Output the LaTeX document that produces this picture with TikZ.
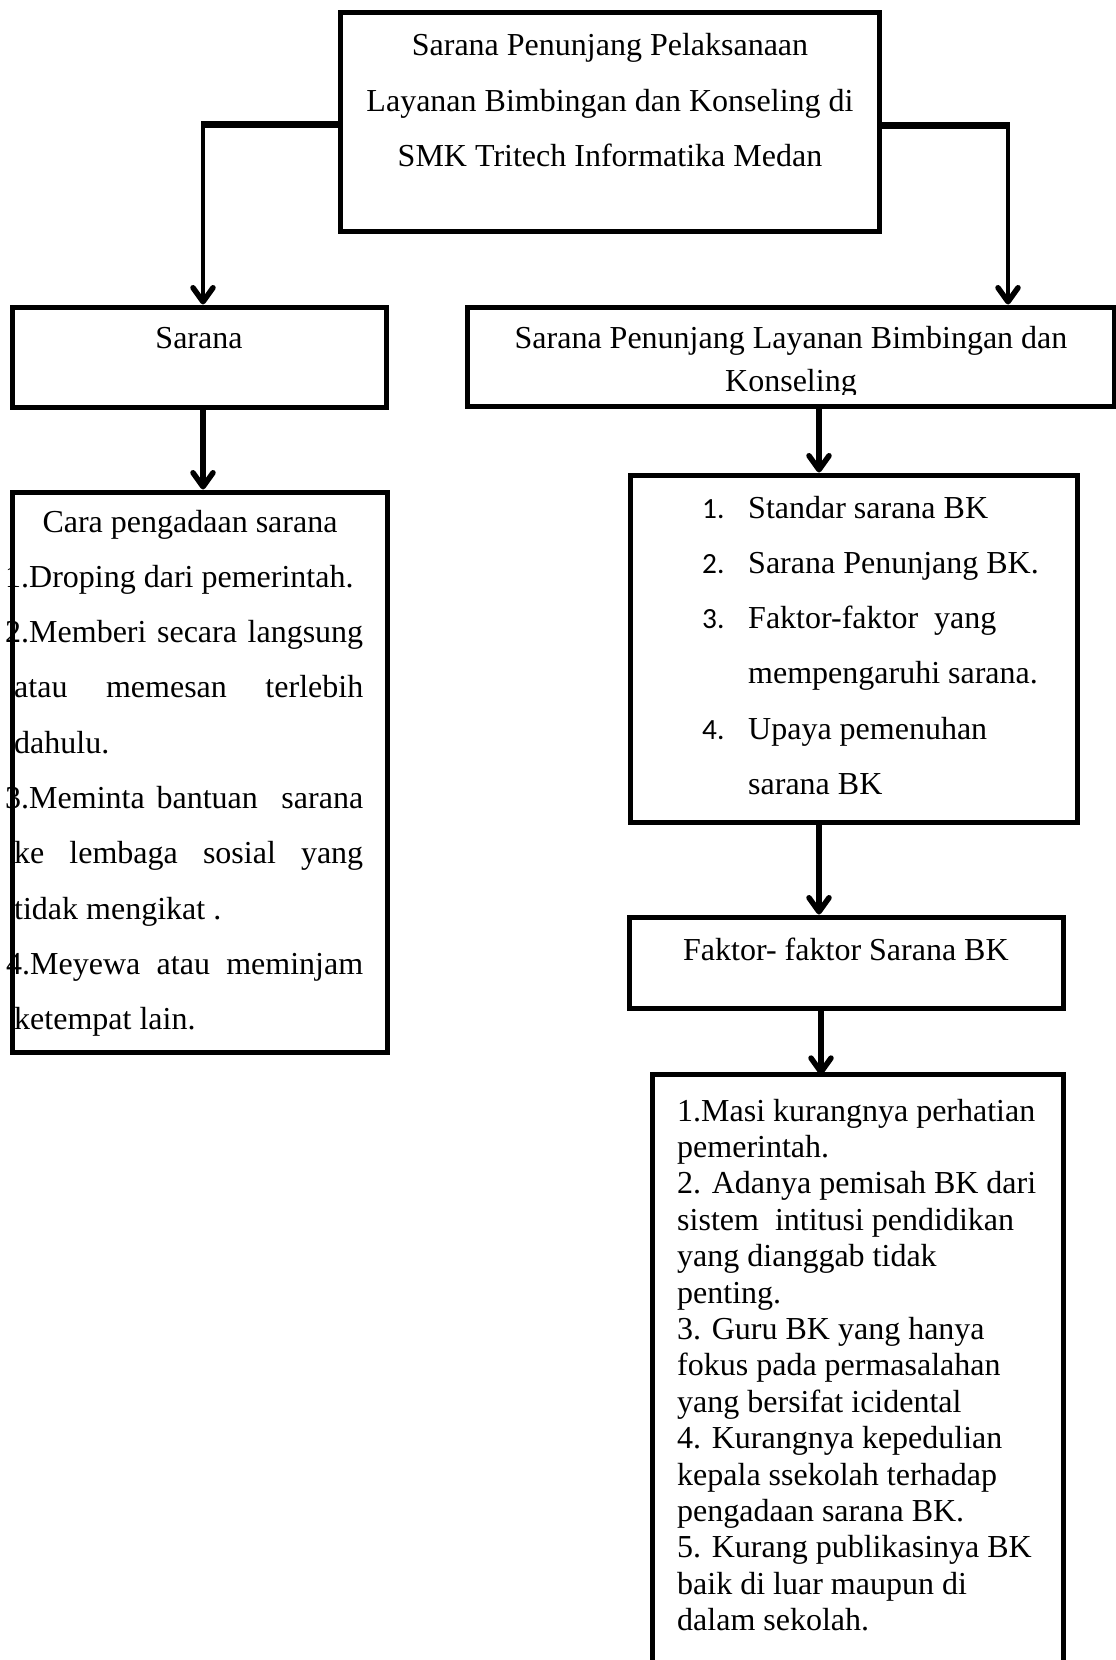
\documentclass[tikz,border=0pt]{standalone}
\usepackage{fontspec}
\setmainfont{Liberation Serif}
\newfontfamily\numfont{Carlito}
\usetikzlibrary{arrows.meta}
\begin{document}
\begin{tikzpicture}[x=1pt,y=-1pt,
  box/.style={draw,line width=5pt,inner sep=0pt},
  txt/.style={inner sep=0pt,font=\fontsize{32}{36}\selectfont},
  num/.style={inner sep=0pt,font=\numfont\fontsize{29.3}{34}\selectfont},
  arr/.style={line width=5.5pt,-{Straight Barb[length=14pt,width=20pt,round]}},
  thinarr/.style={line width=4pt,-{Straight Barb[length=14pt,width=20pt,line width=5.5pt,round]}},
  hline/.style={line width=7pt}
]
\useasboundingbox (0,0) rectangle (1116,1660);
% ---------- texts ----------
\node[txt,anchor=base] (t1) at (610,55) {Sarana Penunjang Pelaksanaan};
\node[txt,anchor=base] (t2) at (610,111) {Layanan Bimbingan dan Konseling di};
\node[txt,anchor=base] (t3) at (610,166) {SMK Tritech Informatika Medan};

\node[txt,anchor=base] (s1) at (199,348) {Sarana};

\node[txt,anchor=base] (p1) at (791,348) {Sarana Penunjang Layanan Bimbingan dan};
\begin{scope}
\clip (467,300) rectangle (1114,394);
\node[txt,anchor=base] (p2) at (791,391) {Konseling};
\end{scope}

% Cara box
\node[txt,anchor=base] (c0) at (190,532) {Cara pengadaan sarana};
\node[txt,anchor=base west] (c1) at (5,587.3) {1.Droping dari pemerintah.};
\node[txt,anchor=base west] (c2) at (5,642.6) {\makebox[358pt][s]{2.Memberi secara langsung}};
\node[txt,anchor=base west] (c3) at (14,697.9) {\makebox[349pt][s]{atau memesan terlebih}};
\node[txt,anchor=base west] (c4) at (14,753.2) {dahulu.};
\node[txt,anchor=base west] (c5) at (5,808.5) {\makebox[358pt][s]{3.Meminta bantuan\ \ sarana}};
\node[txt,anchor=base west] (c6) at (14,863.8) {\makebox[349pt][s]{ke lembaga sosial yang}};
\node[txt,anchor=base west] (c7) at (14,919.1) {tidak mengikat .};
\node[txt,anchor=base west] (c8) at (6,974.4) {\makebox[357pt][s]{4.Meyewa atau meminjam}};
\node[txt,anchor=base west] (c9) at (14,1029.7) {ketempat lain.};

% list box
\node[num,anchor=base west] (n1) at (702,518) {1.};
\node[num,anchor=base west] (n2) at (702,573.3) {2.};
\node[num,anchor=base west] (n3) at (702,628.6) {3.};
\node[num,anchor=base west] (n4) at (702,739.2) {4.};
\node[txt,anchor=base west] (l1) at (748,518) {Standar sarana BK};
\node[txt,anchor=base west] (l2) at (748,573.3) {Sarana Penunjang BK.};
\node[txt,anchor=base west] (l3) at (748,628.6) {Faktor-faktor\ \ yang};
\node[txt,anchor=base west] (l3b) at (748,683.9) {mempengaruhi sarana.};
\node[txt,anchor=base west] (l4) at (748,739.2) {Upaya pemenuhan};
\node[txt,anchor=base west] (l4b) at (748,794.5) {sarana BK};

% Faktor box
\node[txt,anchor=base west] (fk) at (683,960) {Faktor- faktor Sarana BK};

% last box
\foreach \t [count=\i from 0] in {1.Masi kurangnya perhatian, pemerintah., 2. Adanya pemisah BK dari, sistem\ \ intitusi pendidikan, yang dianggab tidak, penting., 3. Guru BK yang hanya, fokus pada permasalahan, yang bersifat icidental, 4. Kurangnya kepedulian, kepala ssekolah terhadap, pengadaan sarana BK., 5. Kurang publikasinya BK, baik di luar maupun di, dalam sekolah.}
  \node[txt,anchor=base west] (f\i) at (677,1121+36.4*\i) {\t};

% ---------- boxes ----------
\node[box,minimum width=539pt,minimum height=219pt] (top) at (609.5,121.5) {};
\node[box,minimum width=374pt,minimum height=100pt] (sarana) at (199,357) {};
\node[box,minimum width=647pt,minimum height=99pt] (pen) at (790.5,356.5) {};
\node[box,minimum width=375pt,minimum height=560pt] (cara) at (199.5,772) {};
\node[box,minimum width=447pt,minimum height=347pt] (list) at (853.5,648.5) {};
\node[box,minimum width=434pt,minimum height=91pt] (faktor) at (846,962.5) {};
\node[inner sep=0pt,minimum width=410pt,minimum height=600pt] (last) at (858,1375) {};
\draw[line width=5pt] (last.south west) -- (last.north west) -- (last.north east) -- (last.south east);

% ---------- connectors ----------
\coordinate (lturn) at (203,124);
\coordinate (rturn) at (1008,125);
\coordinate (ax) at (819,0);
\coordinate (bx) at (821,0);
\draw[hline] (top.west |- lturn) -- ([xshift=-2pt]lturn);
\draw[thinarr] ([yshift=-3pt]lturn) -- (lturn |- sarana.north);
\draw[hline] (top.east |- rturn) -- ([xshift=2pt]rturn);
\draw[thinarr] ([yshift=-3pt]rturn) -- (rturn |- pen.north);
\draw[arr] (sarana.south -| lturn) -- (cara.north -| lturn);
\draw[arr] (pen.south -| ax) -- (list.north -| ax);
\draw[arr] (list.south -| ax) -- (faktor.north -| ax);
\draw[arr] (faktor.south -| bx) -- (last.north -| bx);
\end{tikzpicture}
\end{document}
